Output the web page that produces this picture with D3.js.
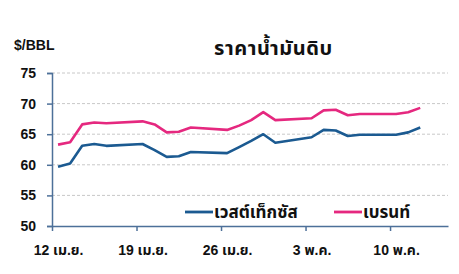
<!DOCTYPE html>
<html><head><meta charset="utf-8">
<script src="https://cdn.jsdelivr.net/npm/d3@7/dist/d3.min.js"></script>
<style>
body{margin:0;background:#fff;}
svg{display:block;}
text{font-family:"Liberation Sans",Arial,"Noto Sans Thai","Tahoma",sans-serif;font-weight:bold;fill:#111;}
</style></head>
<body><svg id="c" width="459" height="274"></svg>
<script>
const dates = ["2021-04-12","2021-04-13","2021-04-14","2021-04-15","2021-04-16","2021-04-19","2021-04-20","2021-04-21","2021-04-22","2021-04-23","2021-04-26","2021-04-27","2021-04-28","2021-04-29","2021-04-30","2021-05-03","2021-05-04","2021-05-05","2021-05-06","2021-05-07","2021-05-10","2021-05-11","2021-05-12"];
const wti = [59.7,60.2,63.1,63.4,63.1,63.4,62.4,61.3,61.4,62.1,61.9,62.9,63.9,65.0,63.6,64.5,65.7,65.6,64.7,64.9,64.9,65.3,66.1];
const brent = [63.3,63.7,66.6,66.9,66.8,67.1,66.6,65.3,65.4,66.1,65.7,66.4,67.3,68.6,67.3,67.6,68.9,69.0,68.1,68.3,68.3,68.6,69.3];
const yTicks = [50,55,60,65,70,75];
const xTickDates = ["2021-04-12","2021-04-19","2021-04-26","2021-05-03","2021-05-10"];
const xTickLabels = ["12 เม.ย.","19 เม.ย.","26 เม.ย.","3 พ.ค.","10 พ.ค."];
const seriesNames = ["เวสต์เท็กซัส","เบรนท์"];
const colors = ["#1b5a91","#e5287f"];
const title = "ราคาน้ำมันดิบ";
const unit = "$/BBL";

const parse = d3.utcParse("%Y-%m-%d");
const DAY = 864e5;
const d0 = parse(dates[0]);
const x = d3.scaleUtc().domain([new Date(+d0 - 0.5*DAY), new Date(+d0 + 32.3*DAY)]).range([52, 448]);
const y = d3.scaleLinear().domain([50,75]).range([226,73]);
const svg = d3.select("#c");
const axisCol = "#4d7099";

// grid
svg.append("g").selectAll("line").data(yTicks.filter(v=>v>50)).join("line")
  .attr("x1",52).attr("x2",448).attr("y1",d=>y(d)).attr("y2",d=>y(d))
  .attr("stroke","#c8c8c8").attr("stroke-width",1).attr("stroke-dasharray","3,2");

// y axis
const ya = svg.append("g").attr("transform","translate(52,0)")
  .call(d3.axisLeft(y).tickValues(yTicks).tickSize(5).tickPadding(11));
ya.select(".domain").attr("stroke",axisCol).attr("stroke-width",1.5);
ya.selectAll(".tick line").attr("stroke",axisCol).attr("stroke-width",1.5);
ya.selectAll("text").style("font-size","14px").attr("fill","#111");

// x axis
const tickVals = xTickDates.map(d=>new Date(+parse(d) - 0.5*DAY));
const xa = svg.append("g").attr("transform","translate(0,226)")
  .call(d3.axisBottom(x).tickValues(tickVals).tickSize(5).tickFormat("").tickSizeOuter(0));
xa.select(".domain").attr("stroke",axisCol).attr("stroke-width",1.5);
xa.selectAll(".tick line").attr("stroke",axisCol).attr("stroke-width",1.5);
svg.append("g").selectAll("text").data(xTickDates).join("text")
  .attr("x",d=>x(parse(d))+0.5).attr("y",255).attr("text-anchor","middle")
  .style("font-size","14px").text((d,i)=>xTickLabels[i]);

// lines
const line = d3.line().x((d,i)=>x(parse(dates[i]))).y(d=>y(d)).curve(d3.curveLinear);
[wti,brent].forEach((s,k)=>{
  svg.append("path").datum(s).attr("d",line).attr("fill","none")
    .attr("stroke",colors[k]).attr("stroke-width",2.6).attr("stroke-linejoin","round");
});

// legend
const lg = [{x:185,name:seriesNames[0],c:colors[0]},{x:334,name:seriesNames[1],c:colors[1]}];
lg.forEach(l=>{
  svg.append("line").attr("x1",l.x).attr("x2",l.x+28).attr("y1",212).attr("y2",212)
    .attr("stroke",l.c).attr("stroke-width",2.8);
  svg.append("text").attr("x",l.x+29).attr("y",218).style("font-size","17px").text(l.name);
});

// title & unit
svg.append("text").attr("x",214).attr("y",55).style("font-size","20px").style("letter-spacing","0.6px").text(title);
svg.append("text").attr("x",14).attr("y",50).style("font-size","14px").text(unit);
</script></body></html>
